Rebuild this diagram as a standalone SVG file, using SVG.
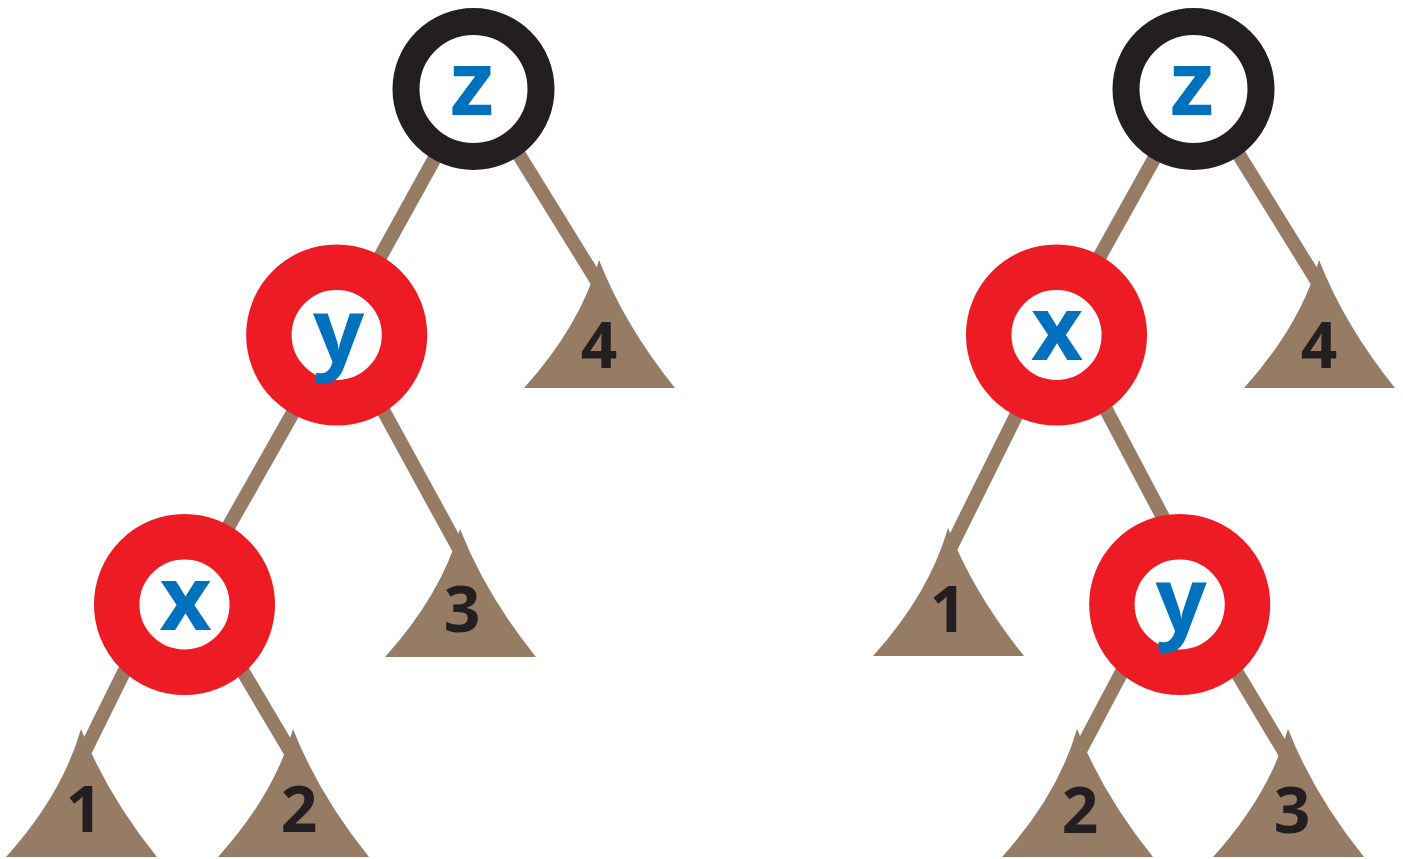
<svg xmlns="http://www.w3.org/2000/svg" width="1403" height="859" viewBox="0 0 1403 859">
<defs>
<style>
.edge{stroke:#967b65;stroke-width:14;stroke-linecap:butt;fill:none}
.tri{fill:#967b65}
.red{fill:#ffffff;stroke:#ed1c24;stroke-width:45.5}
.blk{fill:#ffffff;stroke:#231f20;stroke-width:27}
.lbl{font-family:"Open Sans","DejaVu Sans",sans-serif;font-weight:bold;font-size:90px;fill:#0071bc;text-anchor:middle}
.num{font-family:"Open Sans","DejaVu Sans",sans-serif;font-weight:bold;font-size:64px;fill:#231f20;text-anchor:middle}
</style>
<path id="tshape" d="M0,0 Q26,66 76,128 L-75,128 Q-19,66 0,0 Z"/>
</defs>
<rect width="1403" height="859" fill="#ffffff"/>
<g id="connectors">
<line class="edge" x1="473" y1="89" x2="337" y2="335"/>
<line class="edge" x1="516" y1="150" x2="597" y2="281"/>
<line class="edge" x1="337" y1="335" x2="184" y2="605"/>
<line class="edge" x1="383" y1="410" x2="459" y2="549"/>
<line class="edge" x1="125" y1="670" x2="85" y2="751"/>
<line class="edge" x1="242" y1="670" x2="290" y2="751"/>
<line class="edge" x1="1193" y1="89" x2="1056" y2="335"/>
<line class="edge" x1="1236" y1="150" x2="1317" y2="281"/>
<line class="edge" x1="1056" y1="335" x2="950" y2="549"/>
<line class="edge" x1="1101" y1="400" x2="1175" y2="540"/>
<line class="edge" x1="1125" y1="666" x2="1080" y2="751"/>
<line class="edge" x1="1233" y1="666" x2="1285" y2="753"/>
</g>
<g id="L-t4"><use href="#tshape" class="tri" x="599" y="260"/><text class="num" x="599" y="368">4</text></g>
<g id="L-t3"><use href="#tshape" class="tri" x="460" y="529"/><text class="num" x="462" y="632">3</text></g>
<g id="L-t1"><use href="#tshape" class="tri" x="81" y="729"/><text class="num" x="84" y="832">1</text></g>
<g id="L-t2"><use href="#tshape" class="tri" x="293" y="729"/><text class="num" x="299" y="832">2</text></g>
<g id="R-t4"><use href="#tshape" class="tri" x="1319" y="260"/><text class="num" x="1319" y="368">4</text></g>
<g id="R-t1"><use href="#tshape" class="tri" x="948" y="528"/><text class="num" x="948" y="632">1</text></g>
<g id="R-t2"><use href="#tshape" class="tri" x="1077" y="729"/><text class="num" x="1080" y="833">2</text></g>
<g id="R-t3"><use href="#tshape" class="tri" x="1288" y="729"/><text class="num" x="1292" y="833">3</text></g>
<g id="L-z"><circle class="blk" cx="473.5" cy="89" r="67.5"/><text class="lbl" x="472" y="115">z</text></g>
<g id="L-y"><circle class="red" cx="336.7" cy="335" r="67.8"/><text class="lbl" x="338.5" y="362">y</text></g>
<g id="L-x"><circle class="red" cx="184.5" cy="604.5" r="67.8"/><text class="lbl" x="185.5" y="630">x</text></g>
<g id="R-z"><circle class="blk" cx="1193.5" cy="89" r="67.5"/><text class="lbl" x="1192" y="115">z</text></g>
<g id="R-x"><circle class="red" cx="1056.5" cy="335" r="67.8"/><text class="lbl" x="1057" y="360">x</text></g>
<g id="R-y"><circle class="red" cx="1179.7" cy="604.5" r="67.8"/><text class="lbl" x="1181" y="631">y</text></g>
</svg>
